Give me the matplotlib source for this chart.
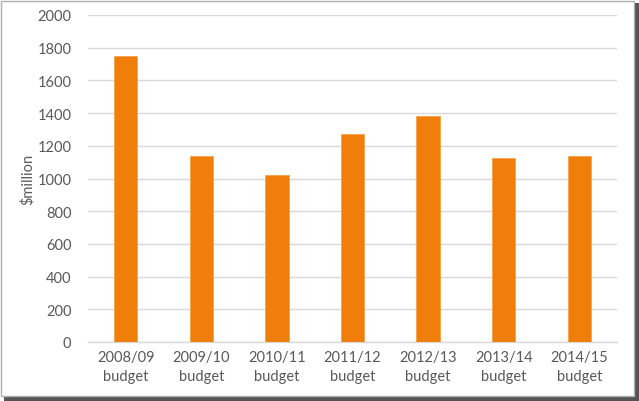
import matplotlib
matplotlib.use("Agg")
import matplotlib.pyplot as plt
from matplotlib.patches import Rectangle

years = ["2008/09", "2009/10", "2010/11", "2011/12", "2012/13", "2013/14", "2014/15"]
labels = [y + "\nbudget" for y in years]
values = [1750, 1135, 1020, 1275, 1380, 1125, 1140]
yticks = [0, 200, 400, 600, 800, 1000, 1200, 1400, 1600, 1800, 2000]

plt.rcParams['font.family'] = ['Lato', 'DejaVu Sans']

fig = plt.figure(figsize=(6.39, 4.02), dpi=100)
ax = fig.add_axes([88/639, 1-343/402, (617-88)/639, (343-16)/402])

x = range(len(values))
ax.bar(x, values, width=0.31, color="#EF7F0A", edgecolor="#F9A04A", linewidth=0.6, zorder=3)

ax.set_xlim(-0.5, len(values) - 0.5)
ax.set_ylim(0, 2000)
ax.set_yticks(yticks)
ax.set_xticks(list(x))
ax.set_xticklabels(labels, linespacing=1.4)
ax.yaxis.grid(True, color="#D9D9D9", linewidth=1.0, zorder=0)
for s in ['top', 'right', 'left']:
    ax.spines[s].set_visible(False)
ax.spines['bottom'].set_color("#D9D9D9")
ax.spines['bottom'].set_linewidth(1.0)
ax.tick_params(axis='both', length=0, colors="#595959", labelsize=10.5)
ax.tick_params(axis='y', pad=12)
ax.tick_params(axis='x', pad=6)
ax.set_ylabel("$million", color="#595959", fontsize=10.5, labelpad=2)

# frame with shadow around the picture
fig.patches.append(Rectangle((4/639, 0), 635/639, 398/402, transform=fig.transFigure,
                             facecolor="#555555", edgecolor="none", zorder=-2))
fig.patches.append(Rectangle((1/639, 5/402), 633/639, 395/402, transform=fig.transFigure,
                             facecolor="white", edgecolor="#B0B0B0", linewidth=1, zorder=-1))

fig.savefig("out.png", dpi=100)
